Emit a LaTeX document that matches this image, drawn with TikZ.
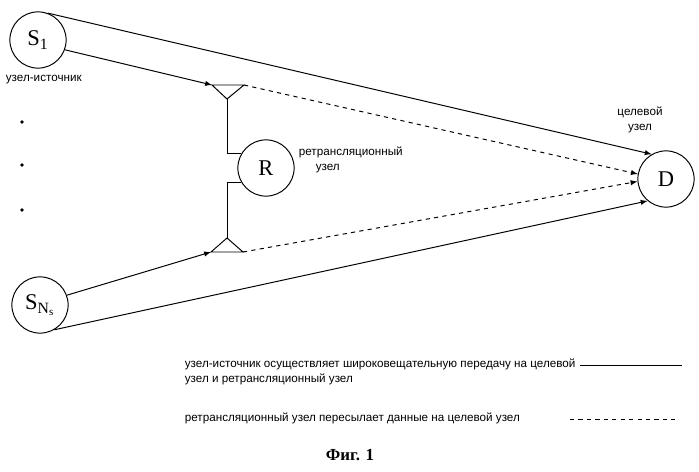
\documentclass[tikz,border=0pt]{standalone}
\usepackage{fontspec}
\setmainfont{Liberation Sans}
\newfontfamily\serif{Liberation Serif}
\begin{document}
\begin{tikzpicture}[
      x=0.025cm, y=-0.025cm, >=latex, line width=0.7pt,
      nd/.style={draw,circle,minimum size=40pt,inner sep=0pt,font=\serif\fontsize{16}{16}\selectfont},
      lbl/.style={font=\fontsize{8.3}{10.5}\selectfont,align=left,inner sep=1pt}
  ]
      \useasboundingbox (0,0) rectangle (699,472);
      % узлы
      \node[nd] (s1) at (38,40) {S\textsubscript{1}};
      \node[nd] (sn) at (40,305) {S\textsubscript{N\textsubscript{s}}};
      \node[nd] (r)  at (266,168) {R};
      \node[nd] (d)  at (666,179) {D};

      % антенны
      \coordinate (a1l) at (212,85);  \coordinate (a1r) at (244,85);  \coordinate (a1) at (227,99);
      \coordinate (a2l) at (211,252); \coordinate (a2r) at (243,252); \coordinate (a2) at (227,238);
      \draw (a1l) -- (a1r) -- (a1) -- cycle;
      \draw (a2l) -- (a2r) -- (a2) -- cycle;
      \draw (a1) |- (r.150);
      \draw (a2) |- (r.210);

      % точки
      \foreach \yy in {122,165,210} \fill (22,\yy) circle (1.8);

      % связи
      \draw[->] (s1.70) -- (d.120);
      \draw[->] (sn.-60) -- (d.-130);
      \draw[->] (s1.-20) -- (a1l);
      \draw[->] (sn.20) -- (a2l);
      \draw[->,dashed] (a1r) -- (d.170);
      \draw[->,dashed] (a2r) -- (d.185);

      % подписи
      \node[lbl,anchor=west] (ls) at (4,80) {узел-источник};
      \node[lbl,anchor=west] (lr) at (297,160) {ретрансляционный\\\hspace*{12pt}узел};
      \node[lbl,align=center] (ld) at (640,120) {целевой\\узел};

      % легенда
      \node[lbl,anchor=west] (t1) at (183,372) {узел-источник осуществляет широковещательную передачу на целевой\\узел и ретрансляционный узел};
      \coordinate (l1a) at (580,365); \coordinate (l1b) at (682,365);
      \draw (l1a) -- (l1b);
      \node[lbl,anchor=west] (t2) at (183,418) {ретрансляционный узел пересылает данные на целевой узел};
      \coordinate (l2a) at (570,419); \coordinate (l2b) at (676,419);
      \draw[dashed] (l2a) -- (l2b);
      \node[font=\serif\bfseries\fontsize{12}{12}\selectfont] (fig) at (350,455) {Фиг. 1};
  \end{tikzpicture}
\end{document}
